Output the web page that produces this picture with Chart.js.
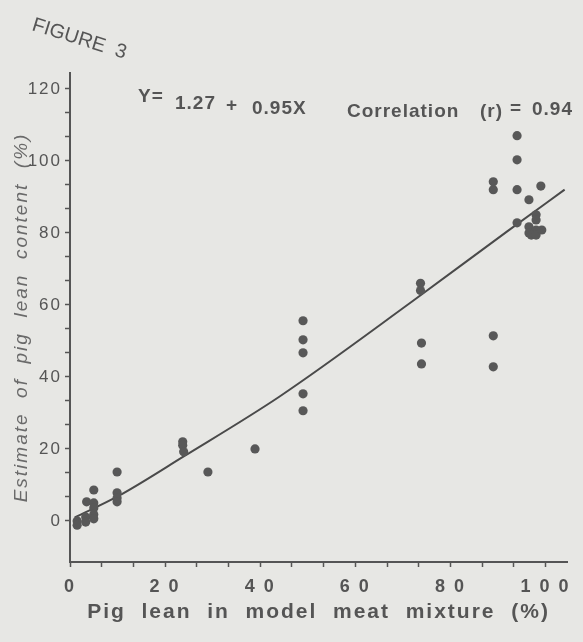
<!DOCTYPE html>
<html>
<head>
<meta charset="utf-8">
<script src="https://cdn.jsdelivr.net/npm/chart.js@4.4.1/dist/chart.umd.min.js"></script>
<style>
    html, body { margin: 0; padding: 0; background: #e7e7e4; }
</style>
</head>
<body>
<canvas id="figure3" width="583" height="642"></canvas>
<script>
// pig lean in the model mixture (%) -> estimated pig lean content (%)
const leanX = [1.5, 1.5, 3.3, 3.3, 3.5, 5, 5, 5, 5, 5,
    9.9, 9.9, 9.9, 9.9, 23.7, 23.7, 23.9, 29, 38.9,
    49, 49, 49, 49, 49, 73.7, 73.7, 73.9, 73.9,
    89, 89, 89, 89, 94, 94, 94, 94,
    96.5, 96.5, 96.5, 98, 98, 98, 97, 98, 99, 99.2];
const leanY = [0, -1.2, 1.1, -0.3, 5.3, 5, 3.6, 1.8, 0.6, 8.6,
    13.6, 7.8, 6.4, 5.3, 22, 21, 19.2, 13.6, 20,
    55.6, 50.3, 46.7, 35.3, 30.6, 66, 64, 49.4, 43.6,
    94.2, 92, 51.4, 42.8, 107, 100.3, 92, 82.8,
    89.2, 81.7, 80, 85, 83.6, 80.8, 79.4, 79.4, 93, 80.8];

// regression line as printed
const fitX = [1, 10, 24, 44, 72, 92, 104];
const fitY = [1, 6.8, 18, 34.5, 61, 80.5, 92];

const xTickLabels = [0, 20, 40, 60, 80, 100];
const yTickLabels = [0, 20, 40, 60, 80, 100, 120];

const ink = '#555555';

function withThirds(majors) {
    const out = [];
    majors.forEach((v, i) => {
        out.push({ value: v });
        if (i < majors.length - 1) {
            const step = (majors[i + 1] - v) / 3;
            out.push({ value: v + step }, { value: v + 2 * step });
        }
    });
    return out;
}

const paper = {
    id: 'paper',
    beforeDraw(chart) {
        const c = chart.ctx;
        c.save();
        c.fillStyle = '#e7e7e4';
        c.fillRect(0, 0, chart.width, chart.height);
        c.restore();
        c.letterSpacing = '2px';
    },
    afterDraw(chart) {
        const c = chart.ctx;
        c.save();
        c.fillStyle = ink;
        c.textBaseline = 'alphabetic';

        c.save();
        c.translate(31, 30);
        c.rotate(0.3);
        c.letterSpacing = '0px';
        c.font = '20px "Liberation Sans", Arial, sans-serif';
        c.fillText('FIGURE  3', 0, 0);
        c.restore();

        c.letterSpacing = '1px';
        c.font = 'bold 19px "Liberation Sans", Arial, sans-serif';
        c.fillText('Y=', 138, 102);
        c.fillText('1.27', 175, 109);
        c.fillText('+', 226, 111);
        c.fillText('0.95X', 252, 114);
        c.fillText('Correlation', 347, 117);
        c.fillText('(r)', 480, 117);
        c.fillText('=', 510, 114);
        c.fillText('0.94', 532, 115);
        c.restore();
    }
};

new Chart(document.getElementById('figure3'), {
    type: 'scatter',
    data: {
        datasets: [
            {
                label: 'Samples',
                data: leanX.map((x, i) => ({ x: x, y: leanY[i] })),
                backgroundColor: '#585858',
                borderWidth: 0,
                pointRadius: 4.6,
                pointHoverRadius: 4.6
            },
            {
                label: 'Y = 1.27 + 0.95X',
                type: 'line',
                data: fitX.map((x, i) => ({ x: x, y: fitY[i] })),
                borderColor: '#4a4a4a',
                borderWidth: 2,
                pointRadius: 0,
                fill: false,
                cubicInterpolationMode: 'monotone'
            }
        ]
    },
    options: {
        responsive: false,
        animation: false,
        events: [],
        layout: { padding: { left: 0, right: 16, top: 73, bottom: 0 } },
        plugins: {
            legend: { display: false },
            tooltip: { enabled: false }
        },
        scales: {
            x: {
                type: 'linear',
                min: 0,
                max: 104.5,
                afterFit: s => { s.height = 80; },
                afterBuildTicks: s => { s.ticks = withThirds(xTickLabels); },
                border: { display: true, color: ink, width: 2 },
                grid: { drawOnChartArea: false, drawTicks: true, tickLength: 5, color: ink, tickWidth: 1.5 },
                ticks: {
                    autoSkip: false,
                    maxRotation: 0,
                    padding: 9,
                    color: ink,
                    font: { family: '"Liberation Sans", Arial, sans-serif', size: 18, weight: 'bold' },
                    callback: v => xTickLabels.includes(v) ? String(v).split('').join(' ') : ''
                },
                title: {
                    display: true,
                    text: 'Pig  lean  in  model  meat  mixture  (%)',
                    color: ink,
                    padding: { top: 0, bottom: 17 },
                    font: { family: '"Liberation Sans", Arial, sans-serif', size: 21, weight: 'bold' }
                }
            },
            y: {
                type: 'linear',
                min: -11.4,
                max: 124.4,
                afterFit: s => { s.width = 70; },
                afterBuildTicks: s => { s.ticks = withThirds(yTickLabels); },
                border: { display: true, color: ink, width: 2 },
                grid: { drawOnChartArea: false, drawTicks: true, tickLength: 5, color: ink, tickWidth: 1.5 },
                ticks: {
                    autoSkip: false,
                    padding: 3,
                    color: ink,
                    font: { family: '"Liberation Sans Narrow", "Liberation Sans", Arial, sans-serif', size: 17 },
                    callback: v => yTickLabels.includes(v) ? String(v) : ''
                },
                title: {
                    display: true,
                    text: 'Estimate  of  pig  lean  content  (%)',
                    color: '#6a6a6a',
                    padding: { top: 10, bottom: 0 },
                    font: { family: '"Liberation Sans", Arial, sans-serif', size: 19, style: 'italic' }
                }
            }
        }
    },
    plugins: [paper]
});
</script>
</body>
</html>
